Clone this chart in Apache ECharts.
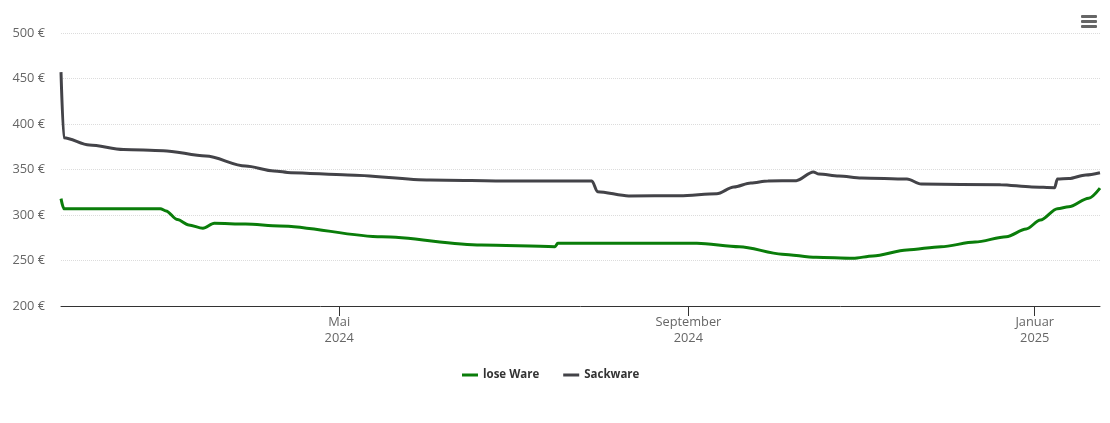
<!DOCTYPE html>
<html>
<head>
<meta charset="utf-8">
<script src="https://cdn.jsdelivr.net/npm/echarts@6/dist/echarts.min.js"></script>
<style>
html,body{margin:0;padding:0;background:#fff;}
#chart{width:1110px;height:423px;}
</style>
</head>
<body>
<div id="chart"></div>
<script>
// Series names
var seriesNames = ['lose Ware', 'Sackware'];

// lose Ware (green)
var loseDates = ['2024-01-24','2024-01-25','2024-02-28','2024-03-01','2024-03-05','2024-03-09','2024-03-14','2024-03-18','2024-03-29','2024-04-10','2024-05-16','2024-06-20','2024-07-16','2024-07-17','2024-09-04','2024-09-19','2024-10-04','2024-10-16','2024-10-29','2024-11-05','2024-11-17','2024-11-29','2024-12-11','2024-12-22','2024-12-29','2025-01-03','2025-01-09','2025-01-13','2025-01-20','2025-01-24'];
var loseValues = [318,307,307,304.5,295,289,285.5,291,290,288,276,267,265.2,269,269,265.2,257,253.5,252.4,255,261.5,265.2,270.3,276.2,284.6,294.5,307,309,318.4,329.5];

// Sackware (dark)
var sackDates = ['2024-01-24','2024-01-25','2024-02-03','2024-02-15','2024-02-29','2024-03-15','2024-03-29','2024-04-08','2024-04-14','2024-05-04','2024-06-02','2024-07-01','2024-07-29','2024-07-31','2024-08-11','2024-08-29','2024-09-11','2024-09-17','2024-09-23','2024-09-29','2024-10-09','2024-10-15','2024-10-17','2024-10-24','2024-11-01','2024-11-17','2024-11-22','2024-12-20','2024-12-31','2025-01-08','2025-01-09','2025-01-13','2025-01-19','2025-01-24'];
var sackValues = [457,385,377,372,370.7,364.8,353.8,348.4,346.5,344,338.5,337.4,337.4,325.6,321,321.2,323.4,330.8,335.2,337.4,337.7,347.3,345,342.9,340.7,339.6,334,333.3,330.8,330,339.6,340,344,346.5];

// Axis ticks
var xMin = '2024-01-24';
var xMax = '2025-01-24';
var xTickDates = ['2024-05-01','2024-09-01','2025-01-01'];
var xTickLabels = ['Mai\n2024','September\n2024','Januar\n2025'];
var yMin = 200, yMax = 500, yStep = 50;

function ts(d){ return Date.UTC(+d.slice(0,4), +d.slice(5,7) - 1, +d.slice(8,10)); }
function pairs(d, v){ return d.map(function(x,i){ return [ts(x), v[i]]; }); }
var tickTs = xTickDates.map(ts);

var chart = echarts.init(document.getElementById('chart'), null, {renderer:'canvas'});
var font = 'Open Sans';
chart.setOption({
  animation: false,
  textStyle: {fontFamily: font},
  grid: {left: 61, right: 10, top: 33, bottom: 117, containLabel: false},
  legend: {
    data: seriesNames,
    left: 457, top: 364,
    icon: 'rect', itemWidth: 16, itemHeight: 3, itemGap: 24,
    textStyle: {fontFamily: font, fontSize: 11.5, fontWeight: 'bold', color: '#333'}
  },
  xAxis: {
    type: 'value',
    min: ts(xMin), max: ts(xMax),
    axisLine: {lineStyle: {color: '#333', width: 1}},
    axisTick: {show: true, length: 10, lineStyle: {color: '#333'}, customValues: tickTs},
    axisLabel: {
      customValues: tickTs,
      color: '#666', fontSize: 12.8, fontFamily: font, lineHeight: 16, margin: 8,
      formatter: function(val){
        for (var i = 0; i < tickTs.length; i++) { if (Math.abs(tickTs[i] - val) < 86400000) return xTickLabels[i]; }
        return '';
      }
    },
    splitLine: {show: false}
  },
  yAxis: {
    type: 'value', min: yMin, max: yMax, interval: yStep,
    axisLine: {show: false}, axisTick: {show: false},
    axisLabel: {color: '#666', fontSize: 12.8, fontFamily: font, margin: 16, formatter: '{value} €'},
    splitLine: {lineStyle: {color: '#dcdcdc', type: 'dotted', width: 1}}
  },
  series: [
    {name: seriesNames[0], type: 'line', data: pairs(loseDates, loseValues), showSymbol: false, symbol: 'none',
     smooth: 0.3, smoothMonotone: 'x', lineStyle: {color: '#0a7d0a', width: 3}, itemStyle: {color: '#0a7d0a'}, z: 3},
    {name: seriesNames[1], type: 'line', data: pairs(sackDates, sackValues), showSymbol: false, symbol: 'none',
     smooth: 0.3, smoothMonotone: 'x', lineStyle: {color: '#434348', width: 3}, itemStyle: {color: '#434348'}, z: 2}
  ],
  graphic: [
    {type: 'rect', left: 1081, top: 15, shape: {width: 16, height: 3, r: 1}, style: {fill: '#666'}},
    {type: 'rect', left: 1081, top: 20, shape: {width: 16, height: 3, r: 1}, style: {fill: '#666'}},
    {type: 'rect', left: 1081, top: 25, shape: {width: 16, height: 3, r: 1}, style: {fill: '#666'}}
  ]
});
</script>
</body>
</html>
